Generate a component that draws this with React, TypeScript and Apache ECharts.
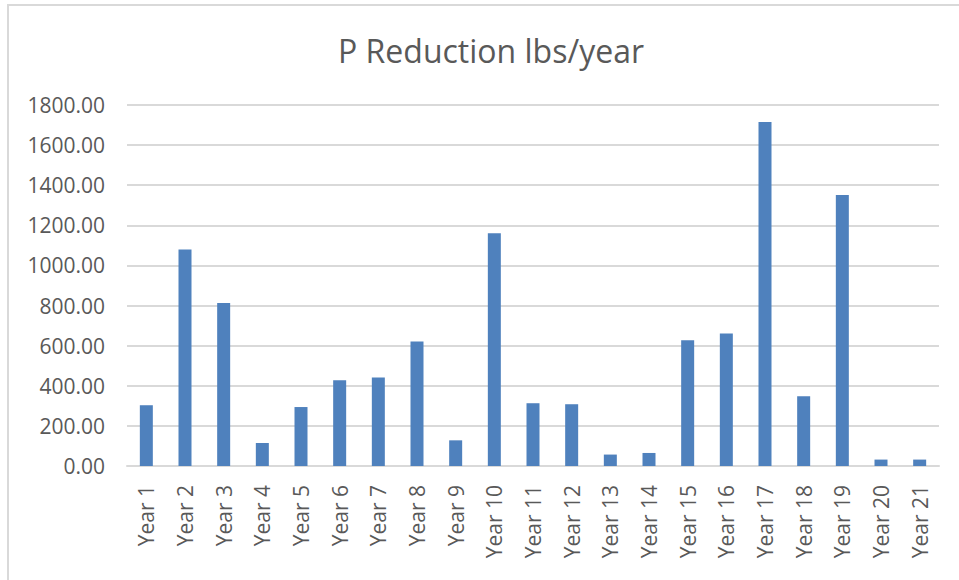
import React, { useEffect, useRef } from "react";
import * as echarts from "echarts";

const categories: string[] = [
  "Year 1", "Year 2", "Year 3", "Year 4", "Year 5", "Year 6", "Year 7",
  "Year 8", "Year 9", "Year 10", "Year 11", "Year 12", "Year 13", "Year 14",
  "Year 15", "Year 16", "Year 17", "Year 18", "Year 19", "Year 20", "Year 21",
];

const pReduction: number[] = [
  303, 1080, 813, 115, 294, 428, 441, 621, 128, 1160, 313,
  308, 57, 65, 627, 661, 1715, 348, 1351, 32, 32,
];

const yMin = 0;
const yMax = 1800;
const yInterval = 200;

const titleText = "P Reduction lbs/year";

export default function App() {
  const ref = useRef<HTMLDivElement>(null);

  useEffect(() => {
    if (!ref.current) return;
    const chart = echarts.init(ref.current, null, { renderer: "svg" });
    const font = "'Open Sans', 'Noto Sans', sans-serif";
    chart.setOption({
      animation: false,
      backgroundColor: "#ffffff",
      graphic: [
        {
          type: "rect",
          shape: { x: 8, y: 5, width: 1000, height: 1000 },
          style: { fill: "none", stroke: "#D9D9D9", lineWidth: 2 },
          silent: true,
        },
        {
          type: "text",
          x: 491,
          y: 50,
          style: {
            text: titleText,
            fontSize: 32,
            fontFamily: font,
            fill: "#595959",
            align: "center",
            verticalAlign: "middle",
          },
        },
      ],
      grid: { left: 127, right: 20, top: 105, bottom: 114, containLabel: false },
      xAxis: {
        type: "category",
        data: categories,
        axisLine: { show: true, lineStyle: { color: "#D9D9D9", width: 2 } },
        axisTick: { show: false },
        axisLabel: {
          rotate: 90,
          interval: 0,
          margin: 19,
          fontSize: 21,
          fontFamily: font,
          color: "#595959",
        },
      },
      yAxis: {
        type: "value",
        min: yMin,
        max: yMax,
        interval: yInterval,
        axisLine: { show: false },
        axisTick: { show: false },
        splitLine: { lineStyle: { color: "#D9D9D9", width: 2 } },
        axisLabel: {
          margin: 22,
          fontSize: 21,
          fontFamily: font,
          color: "#595959",
          formatter: (v: number) => v.toFixed(2),
        },
      },
      series: [
        {
          type: "bar",
          data: pReduction,
          barWidth: 13,
          itemStyle: { color: "#4F81BD" },
        },
      ],
    });
    return () => chart.dispose();
  }, []);

  return (
    <div
      ref={ref}
      style={{ position: "absolute", left: 0, top: 0, width: 959, height: 580 }}
    />
  );
}
